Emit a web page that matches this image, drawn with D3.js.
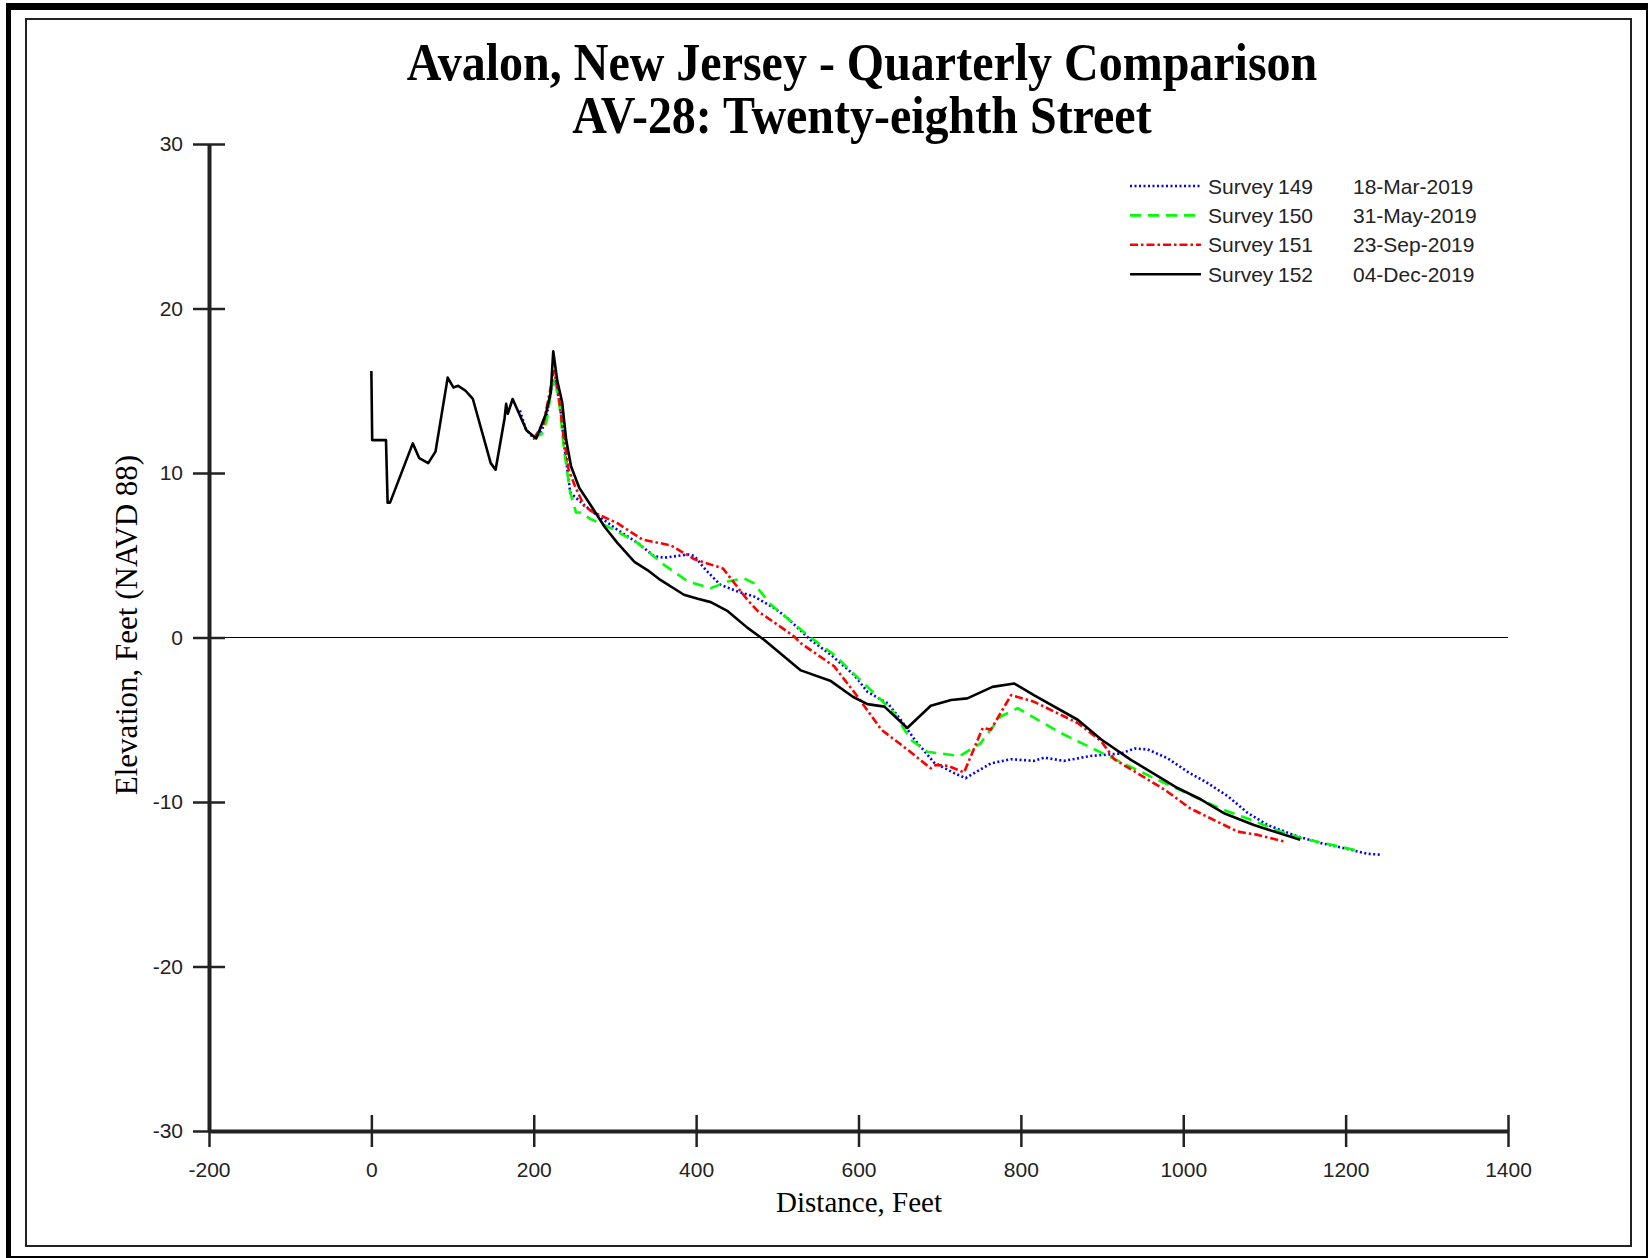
<!DOCTYPE html>
<html>
<head>
<meta charset="utf-8">
<script src="https://d3js.org/d3.v7.min.js"></script>
<style>
  * { margin: 0; padding: 0; }
  html, body { width: 1648px; height: 1258px; background: #fff; overflow: hidden; }
  svg { display: block; }
</style>
</head>
<body>
<div id="chart"></div>
<script>
// Survey profiles, distance (ft) and elevation (ft NAVD 88)
const dist149 = [183, 190, 200, 210, 216, 222, 226, 232, 238, 245, 254, 272, 303, 328, 348, 361, 390, 398, 412, 430, 451, 471, 496, 512, 541, 566, 595, 611, 636, 652, 669, 693, 718, 732, 763, 788, 816, 829, 853, 886, 923, 940, 956, 981, 1005, 1030, 1055, 1079, 1104, 1141, 1170, 1202, 1227, 1243];
const elev149 = [13.8, 12.7, 12.1, 12.6, 13.5, 15.2, 15.6, 14.3, 11.5, 8.8, 8.4, 7.65, 6.55, 5.75, 4.95, 4.85, 5.05, 4.95, 4.1, 3.2, 2.8, 2.5, 1.8, 1.2, -0.15, -1.05, -2.3, -3.3, -4.0, -5.0, -6.2, -7.6, -8.25, -8.55, -7.65, -7.4, -7.5, -7.3, -7.5, -7.2, -7.05, -6.75, -6.8, -7.35, -8.15, -8.85, -9.65, -10.65, -11.4, -12.1, -12.5, -12.85, -13.15, -13.2];

const dist150 = [200, 210, 216, 222, 226, 232, 237, 245, 252, 258, 270, 295, 328, 361, 390, 418, 439, 459, 471, 492, 537, 570, 611, 628, 644, 664, 685, 725, 750, 775, 796, 849, 899, 964, 993, 1030, 1051, 1079, 1120, 1149, 1182, 1219];
const elev150 = [12.1, 12.4, 13.2, 15.2, 15.8, 14.0, 11.5, 8.8, 7.6, 7.6, 7.2, 6.65, 5.75, 4.4, 3.4, 3.0, 3.4, 3.6, 3.3, 2.0, 0.15, -1.05, -3.0, -3.8, -4.6, -6.2, -6.95, -7.2, -6.45, -4.8, -4.3, -5.8, -7.0, -8.55, -9.2, -10.05, -10.5, -11.0, -11.8, -12.25, -12.6, -13.0];

const dist151 = [200, 212, 218, 225, 230, 236, 243, 250, 262, 272, 303, 334, 369, 398, 433, 463, 476, 504, 521, 529, 570, 599, 628, 656, 689, 695, 710, 730, 753, 763, 788, 816, 870, 899, 915, 977, 1009, 1038, 1067, 1092, 1124];
const elev151 = [12.1, 13.0, 14.5, 16.2, 15.0, 12.5, 10.2, 9.3, 8.0, 7.65, 6.95, 5.95, 5.6, 4.75, 4.2, 2.3, 1.6, 0.65, 0.05, -0.35, -1.75, -3.6, -5.6, -6.65, -7.95, -7.75, -7.8, -8.2, -5.5, -5.6, -3.5, -3.9, -5.2, -6.3, -7.4, -9.25, -10.4, -11.1, -11.8, -12.0, -12.4];

const dist152 = [0, 1, 18, 20, 23, 51, 59, 70, 79, 94, 101, 107, 116, 125, 147, 153, 164, 166, 168, 174, 191, 203, 215, 221, 224, 229, 235, 240, 246, 256, 272, 287, 303, 324, 340, 356, 385, 402, 418, 439, 463, 484, 529, 566, 593, 611, 632, 660, 689, 714, 734, 765, 792, 816, 870, 899, 936, 993, 1022, 1051, 1087, 1112, 1144];
const elev152 = [16.2, 12.0, 12.0, 8.2, 8.2, 11.8, 10.9, 10.6, 11.3, 15.8, 15.2, 15.3, 15.0, 14.5, 10.6, 10.2, 13.3, 14.2, 13.6, 14.5, 12.6, 12.1, 13.6, 14.9, 17.4, 15.6, 14.3, 12.0, 10.4, 9.1, 7.9, 6.75, 5.75, 4.6, 4.1, 3.5, 2.6, 2.35, 2.15, 1.6, 0.6, -0.15, -2.0, -2.65, -3.6, -4.05, -4.2, -5.5, -4.15, -3.8, -3.7, -3.0, -2.8, -3.5, -5.0, -6.2, -7.45, -9.15, -9.85, -10.7, -11.4, -11.8, -12.3];

const surveyNums = ['149', '150', '151', '152'];
const surveyDates = ['18-Mar-2019', '31-May-2019', '23-Sep-2019', '04-Dec-2019'];
const xTicks = [-200, 0, 200, 400, 600, 800, 1000, 1200, 1400];
const yTicks = [-30, -20, -10, 0, 10, 20, 30];

const W = 1648, H = 1258;
const margin = { left: 209, right: 140, top: 144, bottom: 127 };

const series = [
  { d: dist149, e: elev149, color: '#0000ff', dash: '2,2.5', width: 2.6 },
  { d: dist150, e: elev150, color: '#00ff00', dash: '11,7', width: 2.6 },
  { d: dist151, e: elev151, color: '#ff0000', dash: '8,3,2.5,3', width: 2.6 },
  { d: dist152, e: elev152, color: '#000000', dash: null, width: 2.6 }
];

const svg = d3.select('#chart').append('svg').attr('width', W).attr('height', H);

// page frame
svg.append('rect').attr('x', 8.5).attr('y', 6).attr('width', W - 9.5).attr('height', H - 7)
  .attr('fill', 'none').attr('stroke', '#000').attr('stroke-width', 2);
svg.append('rect').attr('x', 6).attr('y', 3).attr('width', W - 6).attr('height', 7).attr('fill', '#000');
svg.append('rect').attr('x', 6).attr('y', 3).attr('width', 5).attr('height', H - 3).attr('fill', '#000');
svg.append('rect').attr('x', 26).attr('y', 19).attr('width', 1605).attr('height', 1227)
  .attr('fill', 'none').attr('stroke', '#222').attr('stroke-width', 2);

const x = d3.scaleLinear().domain([-200, 1400]).range([margin.left, W - margin.right]);
const y = d3.scaleLinear().domain([-30, 30]).range([H - margin.bottom, margin.top]);

// title (reference glyphs are a little taller than wide)
const title = svg.append('text').attr('text-anchor', 'middle')
  .attr('transform', 'translate(0,-7) scale(1,1.08)')
  .attr('font-family', '"Liberation Serif", "Times New Roman", serif')
  .attr('font-weight', 'bold').attr('font-size', 48).attr('fill', '#000');
title.append('tspan').attr('x', 862).attr('y', 81).text('Avalon, New Jersey - Quarterly Comparison');
title.append('tspan').attr('x', 862).attr('y', 130).text('AV-28: Twenty-eighth Street');

// zero line
svg.append('line').attr('x1', x(-200)).attr('x2', x(1400)).attr('y1', y(0)).attr('y2', y(0))
  .attr('stroke', '#000').attr('stroke-width', 1.2);

// data
const line = d3.line().x(d => x(d[0])).y(d => y(d[1]));
series.forEach(s => {
  svg.append('path')
    .datum(d3.zip(s.d, s.e))
    .attr('d', line)
    .attr('fill', 'none')
    .attr('stroke', s.color)
    .attr('stroke-width', s.width)
    .attr('stroke-dasharray', s.dash)
    .attr('stroke-linejoin', 'round');
});

// axes
const tickLen = 16;
const plain = d => String(d);
const yAxis = svg.append('g').attr('transform', `translate(${x(-200)},0)`)
  .call(d3.axisLeft(y).tickValues(yTicks).tickFormat(plain).tickSizeInner(tickLen).tickSizeOuter(0).tickPadding(10));
yAxis.selectAll('.tick line').attr('x1', tickLen).attr('stroke-width', 2.5).attr('stroke', '#222');

const xAxis = svg.append('g').attr('transform', `translate(0,${y(-30)})`)
  .call(d3.axisBottom(x).tickValues(xTicks).tickFormat(plain).tickSizeInner(tickLen).tickSizeOuter(0).tickPadding(15));
xAxis.selectAll('.tick line').attr('y1', -tickLen).attr('stroke-width', 2.5).attr('stroke', '#222');

[yAxis, xAxis].forEach(a => {
  a.select('.domain').attr('stroke', '#222').attr('stroke-width', 4);
  a.selectAll('.tick text').attr('font-family', '"Liberation Sans", Arial, sans-serif')
    .attr('font-size', 21).attr('fill', '#222');
});

// axis titles
svg.append('text').attr('x', 859).attr('y', 1212).attr('text-anchor', 'middle')
  .attr('font-family', '"Liberation Serif", "Times New Roman", serif').attr('font-size', 29)
  .text('Distance, Feet');
svg.append('text').attr('transform', 'translate(137,625) rotate(-90)').attr('text-anchor', 'middle')
  .attr('font-family', '"Liberation Serif", "Times New Roman", serif').attr('font-size', 31)
  .text('Elevation, Feet (NAVD 88)');

// legend
const legend = svg.append('g').attr('font-family', '"Liberation Sans", Arial, sans-serif')
  .attr('font-size', 21).attr('fill', '#222');
series.forEach((s, i) => {
  const ly = 186 + i * 29.4;
  legend.append('line').attr('x1', 1130).attr('x2', 1201).attr('y1', ly).attr('y2', ly)
    .attr('stroke', s.color).attr('stroke-width', s.width).attr('stroke-dasharray', s.dash);
  legend.append('text').attr('x', 1208).attr('y', ly + 7.5).text('Survey');
  legend.append('text').attr('x', 1278).attr('y', ly + 7.5).text(surveyNums[i]);
  legend.append('text').attr('x', 1353).attr('y', ly + 7.5).text(surveyDates[i]);
});
</script>
</body>
</html>
